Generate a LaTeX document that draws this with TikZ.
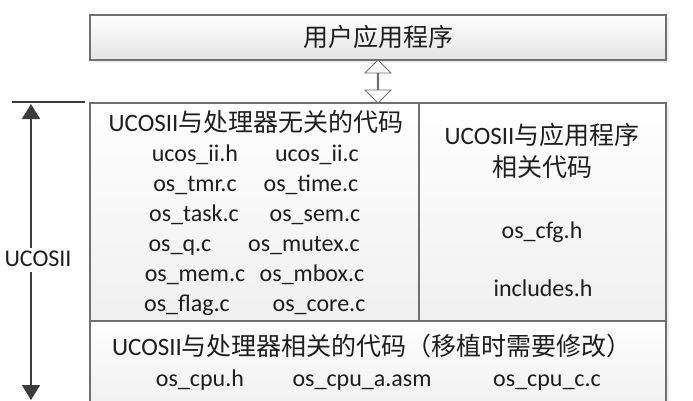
\documentclass[tikz,border=0pt]{standalone}
\usepackage{fontspec}
\setmainfont{Carlito}
\newfontfamily\cjk{Noto Sans CJK SC}
\usepackage{tikz}
\usetikzlibrary{arrows.meta,shapes.arrows,shadows,calc}
\definecolor{framecolor}{HTML}{707070}
\definecolor{arrowcolor}{HTML}{3C3C3C}
\definecolor{shadecolor}{HTML}{E4E4E4}
\definecolor{cellcolor}{HTML}{F0F0F0}
\definecolor{textcolor}{HTML}{1E1E1E}
\tikzset{
  layerbox/.style={draw=framecolor, line width=1.2pt, rectangle, inner sep=0pt,
    drop shadow={shadow xshift=2.5pt, shadow yshift=-2.5pt, fill=black!12}},
  appbox/.style={layerbox, top color=white, bottom color=shadecolor},
  cellbox/.style={layerbox, top color=white, bottom color=cellcolor},
  linkarrow/.style={double arrow, draw=framecolor, line width=0.8pt, fill=white,
    shape border rotate=90, minimum height=43pt, minimum width=26pt,
    double arrow head extend=8pt, inner sep=0pt},
  filetext/.style={font=\fontsize{24pt}{28pt}\selectfont, text=textcolor, inner sep=0pt,
    text height=12pt, text depth=0pt},
  titletext/.style={filetext, font=\fontsize{25pt}{30pt}\selectfont, text height=16pt},
  dimline/.style={draw=arrowcolor, line width=1.6pt, -{Triangle[length=15pt,width=18pt]}},
  barline/.style={draw=arrowcolor, line width=2.6pt}
}
\begin{document}
\begin{tikzpicture}[x=1pt, y=-1pt]%
\useasboundingbox (0,0) rectangle (693,400);%
% layers
\node[appbox, minimum width=576pt, minimum height=45pt] (app) at (378,37.5) {};%
\node[cellbox, minimum width=329pt, minimum height=218pt] (indep) at (254.5,212) {};%
\node[cellbox, minimum width=247pt, minimum height=218pt] (appcode) at (542.5,212) {};%
\node[cellbox, minimum width=576pt, minimum height=88pt] (port) at (378,365) {};%
\node[linkarrow] (link) at ($(app.south)!0.5!(app.south |- indep.north)$) {};%
% texts
\node[titletext] (apptext) at (378,38) {\cjk 用户应用程序};%
\node[titletext] (indeptitle) at (256,123) {UCOSII{\cjk 与处理器无关的代码}};%
\node[filetext] (iih) at (195,155) {ucos\_ii.h};%
\node[filetext] (iic) at (317,155) {ucos\_ii.c};%
\node[filetext] (tmr) at (195,185) {os\_tmr.c};%
\node[filetext] (time) at (311,185) {os\_time.c};%
\node[filetext] (task) at (194,215) {os\_task.c};%
\node[filetext] (sem) at (315,215) {os\_sem.c};%
\node[filetext] (q) at (180,245) {os\_q.c};%
\node[filetext] (mutex) at (304,245) {os\_mutex.c};%
\node[filetext] (mem) at (195,275) {os\_mem.c};%
\node[filetext] (mbox) at (312,275) {os\_mbox.c};%
\node[filetext] (flag) at (187,305) {os\_flag.c};%
\node[filetext] (core) at (319,305) {os\_core.c};%
\node[titletext] (apptitle) at (542,136) {UCOSII{\cjk 与应用程序}};%
\node[titletext] (apptitlerest) at (542,168) {\cjk 相关代码};%
\node[filetext] (cfg) at (542,232) {os\_cfg.h};%
\node[filetext] (inc) at (543,290) {includes.h};%
\node[titletext] (porttitle) at (372,347) {UCOSII{\cjk 与处理器相关的代码（移植时需要修改）}};%
\node[filetext] (cpuh) at (200,380) {os\_cpu.h};%
\node[filetext] (cpua) at (362,380) {os\_cpu\_a.asm};%
\node[filetext] (cpuc) at (547,380) {os\_cpu\_c.c};%
% UCOSII span
\coordinate (barleft) at (12,102);%
\coordinate (barright) at (85,102);%
\coordinate (dimtop) at (31,104);%
\coordinate (dimbot) at (31,400);%
\draw[barline] (barleft) -- (barright);%
\node[filetext, inner sep=6pt] (ucos) at (38,260) {UCOSII};%
\draw[dimline] (dimtop |- ucos.north) -- (dimtop);%
\draw[dimline] (dimtop |- ucos.south) -- (dimbot);%
\end{tikzpicture}
\end{document}
